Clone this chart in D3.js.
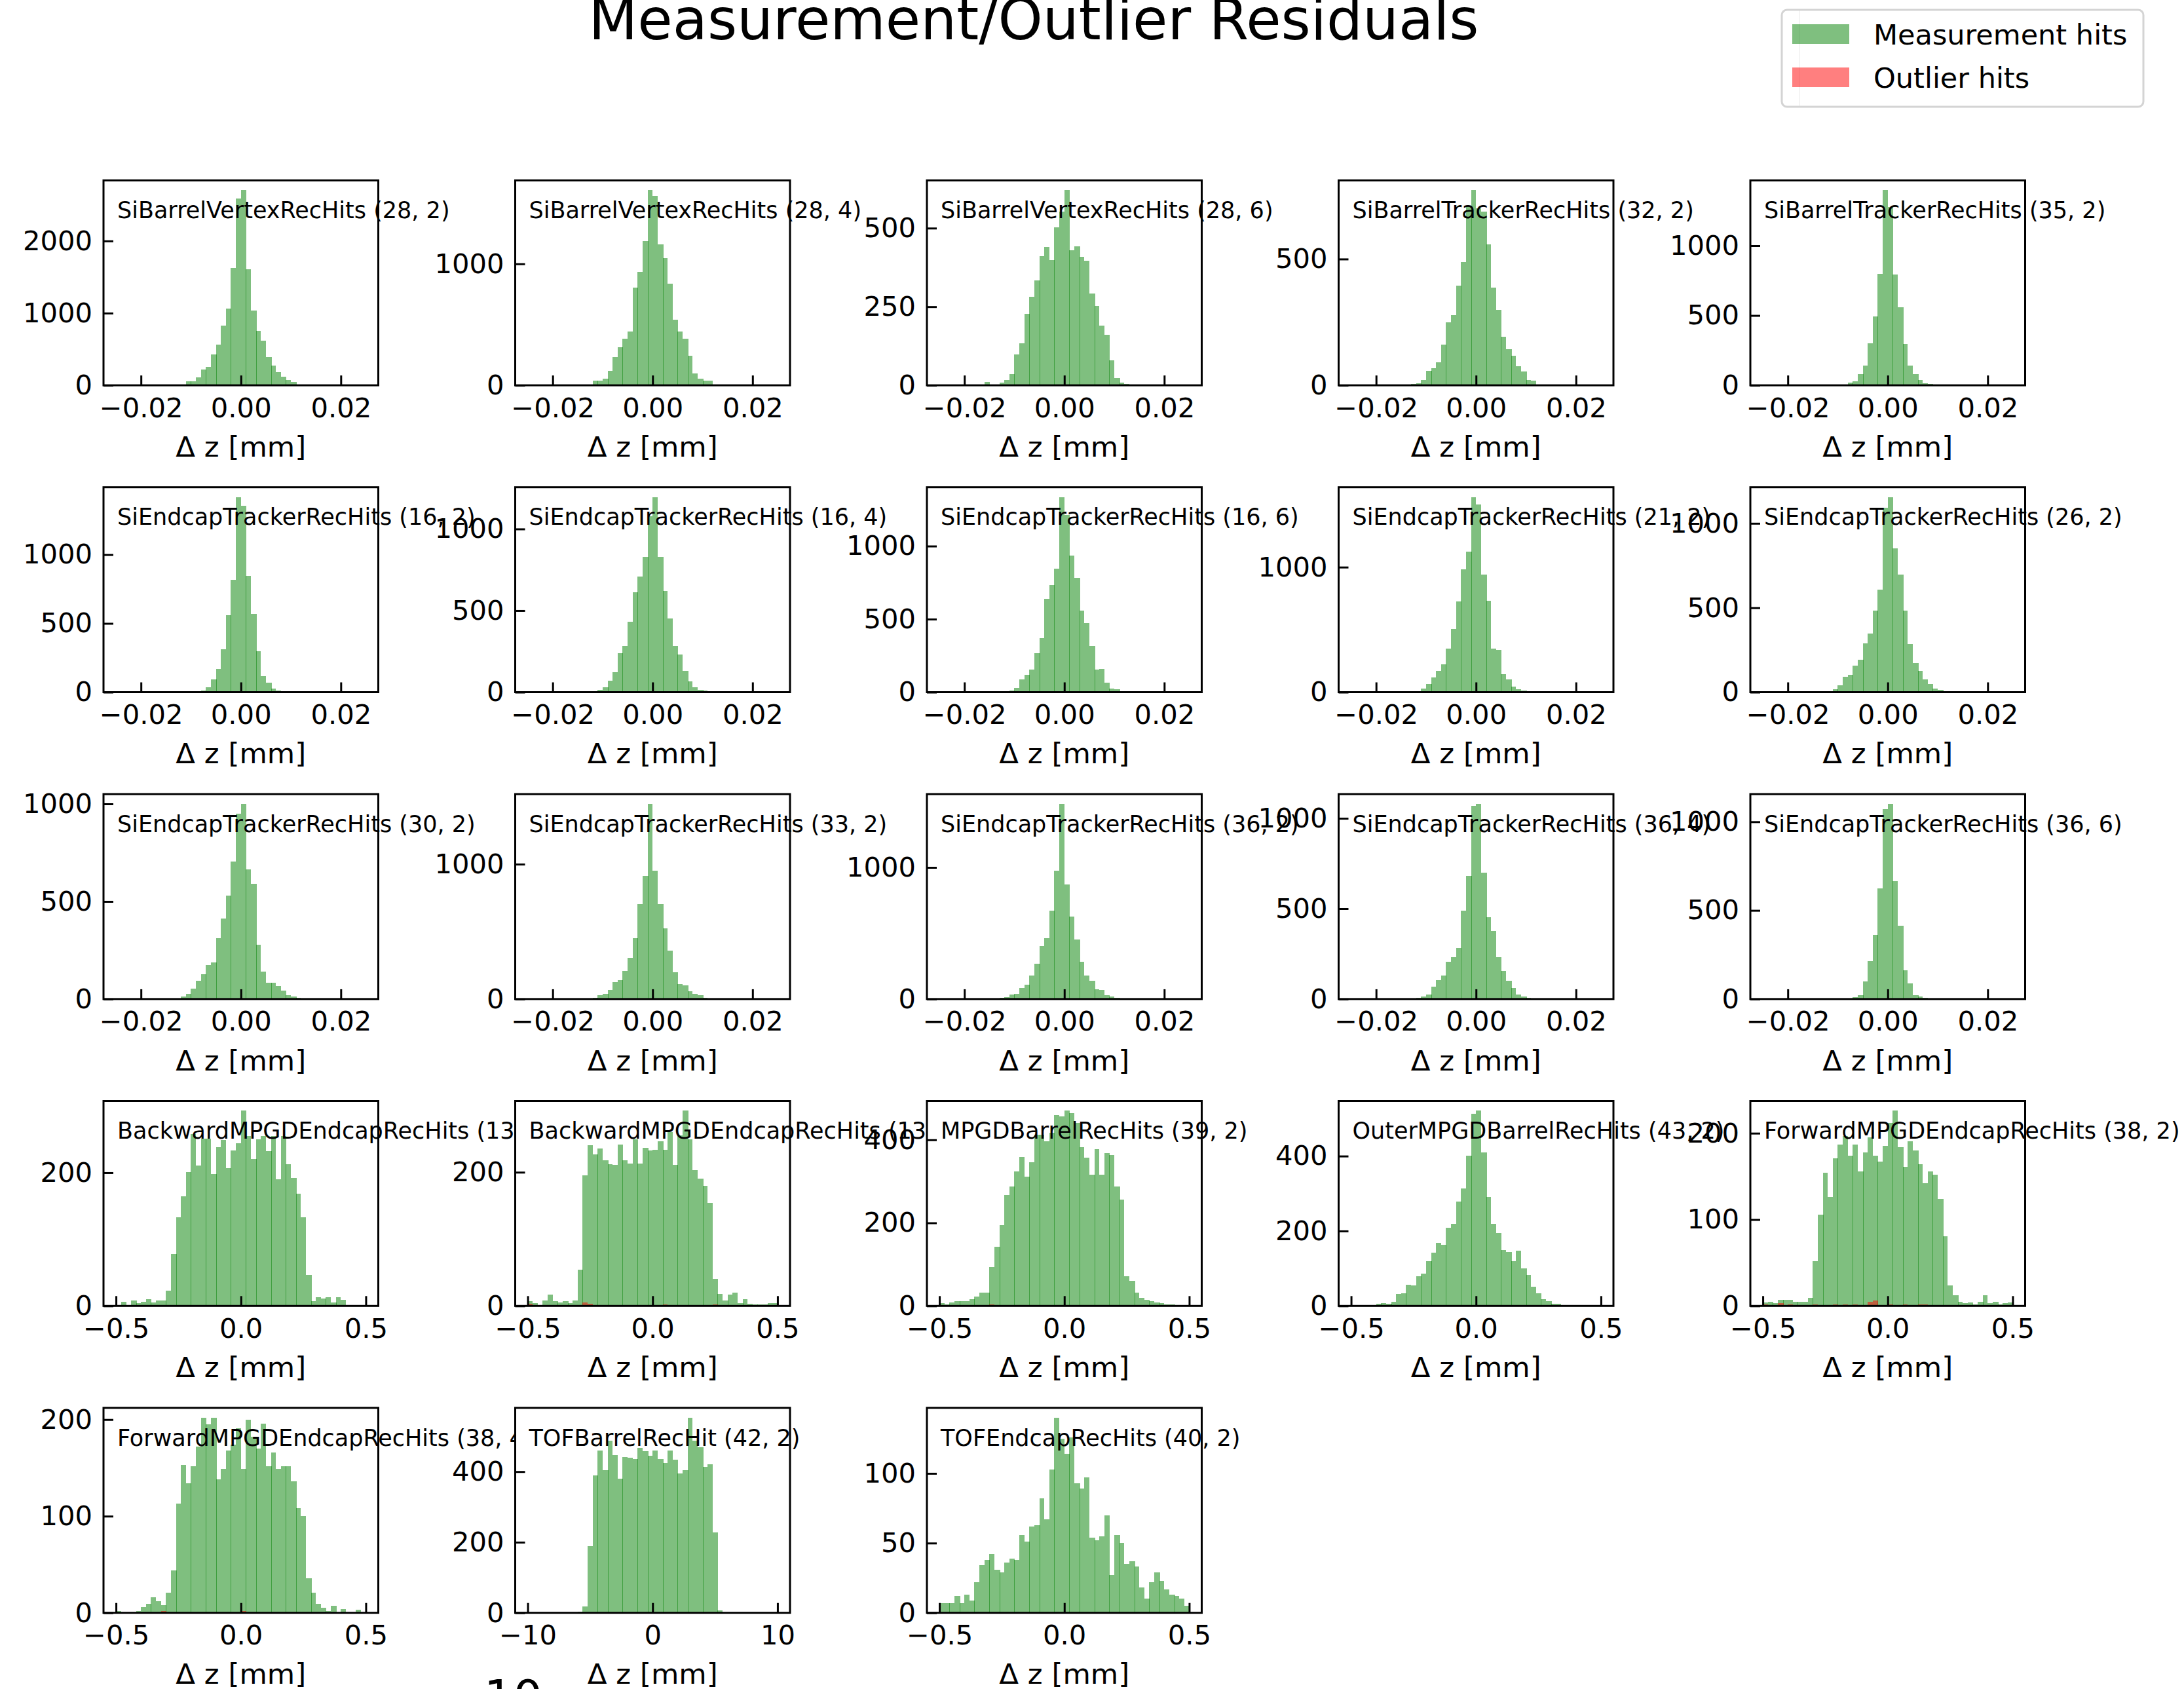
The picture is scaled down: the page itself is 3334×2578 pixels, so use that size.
<!DOCTYPE html>
<html><head><meta charset="utf-8">
<script src="https://cdn.jsdelivr.net/npm/d3@7"></script>
<style>body{margin:0;background:#fff}svg{display:block}text{font-family:"DejaVu Sans"}</style>
</head><body><svg id="c" width="3334" height="2578"></svg>
<script>
// ---------------- DATA ----------------
const titleText = "Measurement/Outlier Residuals";
const legendLabels = ["Measurement hits", "Outlier hits"];
const xLabelText = "Δ z [mm]";

const panelNames = [
  "SiBarrelVertexRecHits (28, 2)", "SiBarrelVertexRecHits (28, 4)", "SiBarrelVertexRecHits (28, 6)",
  "SiBarrelTrackerRecHits (32, 2)", "SiBarrelTrackerRecHits (35, 2)",
  "SiEndcapTrackerRecHits (16, 2)", "SiEndcapTrackerRecHits (16, 4)", "SiEndcapTrackerRecHits (16, 6)",
  "SiEndcapTrackerRecHits (21, 2)", "SiEndcapTrackerRecHits (26, 2)",
  "SiEndcapTrackerRecHits (30, 2)", "SiEndcapTrackerRecHits (33, 2)", "SiEndcapTrackerRecHits (36, 2)",
  "SiEndcapTrackerRecHits (36, 4)", "SiEndcapTrackerRecHits (36, 6)",
  "BackwardMPGDEndcapRecHits (13, 2)", "BackwardMPGDEndcapRecHits (13, 4)", "MPGDBarrelRecHits (39, 2)",
  "OuterMPGDBarrelRecHits (43, 2)", "ForwardMPGDEndcapRecHits (38, 2)",
  "ForwardMPGDEndcapRecHits (38, 4)", "TOFBarrelRecHit (42, 2)", "TOFEndcapRecHits (40, 2)"
];
// histogram range per panel type
const siRange = [-0.025, 0.025];
const mpgdRange = [-0.5, 0.5];
const tofBarrelRange = [-10, 10];
const siXTicks = [-0.02, 0, 0.02];
const siXTickLabels = ["−0.02", "0.00", "0.02"];
const mpgdXTicks = [-0.5, 0, 0.5];
const mpgdXTickLabels = ["−0.5", "0.0", "0.5"];
const tofXTicks = [-10, 0, 10];
const tofXTickLabels = ["−10", "0", "10"];
const yTickValues = [
  [0,1000,2000],[0,1000],[0,250,500],[0,500],[0,500,1000],
  [0,500,1000],[0,500,1000],[0,500,1000],[0,1000],[0,500,1000],
  [0,500,1000],[0,1000],[0,1000],[0,500,1000],[0,500,1000],
  [0,200],[0,200],[0,200,400],[0,200,400],[0,100,200],
  [0,100,200],[0,200,400],[0,50,100]
];

// Measurement-hit counts, 50 bins each
const meas01 = [0,0,0,0,0,0,0,0,0,0, 0,0,4,8,55,55,112,220,257,429, 565,828,1063,1625,2589,2704,1607,1036,755,619, 393,272,181,121,75,45,12,6,3,0, 0,0,0,0,0,0,0,0,0,0];
const meas02 = [0,0,0,0,0,0,0,0,0,0, 0,0,3,39,36,56,120,233,314,382, 443,804,934,1188,1607,1558,1158,1047,838,540, 443,382,242,99,57,39,36,8,3,0, 0,0,0,0,0,0,0,0,0,0];
const meas03 = [0,0,0,0,0,0,0,0,0,10, 0,2,8,17,36,99,134,227,281,333, 411,440,399,503,552,621,430,442,408,396, 292,252,190,161,80,23,8,5,3,3, 2,0,0,0,0,0,0,0,0,0];
const meas04 = [0,0,0,0,0,0,0,0,0,0, 0,3,6,9,22,58,68,91,161,250, 278,395,488,711,773,700,687,557,388,298, 192,143,117,75,56,20,18,4,2,0, 0,0,0,0,0,0,0,0,0,0];
const meas05 = [0,0,0,0,0,0,0,0,0,0, 0,0,0,0,0,0,3,20,27,81, 141,302,492,800,1398,1277,792,559,297,141, 78,39,16,8,3,0,0,0,0,0, 0,0,0,0,0,0,0,0,0,0];
const meas06 = [0,0,0,0,0,0,0,0,0,0, 0,0,0,0,0,0,0,10,35,91, 171,314,558,817,1419,1356,845,569,298,115, 67,27,11,4,0,0,0,0,0,0, 0,0,0,0,0,0,0,0,0,0];
const meas07 = [0,0,0,0,0,0,0,0,0,0, 0,0,0,0,16,30,70,124,238,285, 433,614,708,829,1078,1196,829,621,453,285, 231,130,67,30,16,9,0,0,0,0, 0,0,0,0,0,0,0,0,0,0];
const meas08 = [0,0,0,0,0,0,0,0,0,0, 0,0,0,0,10,29,89,120,153,266, 371,638,731,844,1336,1212,937,784,559,471, 318,153,161,63,26,18,8,0,0,0, 0,0,0,0,0,0,0,0,0,0];
const meas09 = [0,0,0,0,0,0,0,0,0,0, 0,0,0,9,30,65,118,170,223,351, 504,726,982,1123,1561,1500,942,732,346,336, 144,100,47,21,12,5,0,0,0,0, 0,0,0,0,0,0,0,0,0,0];
const meas10 = [0,0,0,0,0,0,0,0,0,0, 0,0,0,6,16,42,91,104,156,191, 288,347,483,607,1094,1156,853,697,483,286, 171,126,74,48,22,13,6,0,0,0, 0,0,0,0,0,0,0,0,0,0];
const meas11 = [0,0,0,0,0,0,0,0,0,0, 0,0,4,13,27,53,92,126,173,188, 311,412,530,704,948,1000,665,589,278,139, 83,85,66,42,19,13,8,0,0,0, 0,0,0,0,0,0,0,0,0,0];
const meas12 = [0,0,0,0,0,0,0,0,0,0, 0,0,0,8,28,36,68,125,141,207, 304,450,706,914,1447,950,706,524,358,198, 109,101,60,36,28,11,0,0,0,0, 0,0,0,0,0,0,0,0,0,0];
const meas13 = [0,0,0,0,0,0,0,0,0,0, 0,0,7,12,33,37,83,107,178,270, 403,462,670,973,1483,870,628,453,283,178, 137,73,70,28,20,8,0,0,0,0, 0,0,0,0,0,0,0,0,0,0];
const meas14 = [0,0,0,0,0,0,0,0,0,0, 0,0,0,6,15,24,69,106,130,206, 233,284,488,682,1068,1080,700,451,376,233, 154,100,61,24,15,6,0,0,0,0, 0,0,0,0,0,0,0,0,0,0];
const meas15 = [0,0,0,0,0,0,0,0,0,0, 0,0,0,0,0,0,0,3,9,21, 101,213,360,625,1073,1101,666,415,163,89, 21,15,6,0,0,0,0,0,0,0, 0,0,0,0,0,0,0,0,0,0];
const meas16 = [0,6,0,8,4,6,10,5,8,8, 23,78,133,165,201,258,211,251,251,198, 238,249,207,233,244,293,255,221,250,255, 232,255,190,255,213,192,168,133,47,7, 13,11,13,5,13,9,0,0,0,0];
const meas17 = [7,4,1,8,17,7,5,7,4,8, 54,195,240,227,236,218,212,211,241,218, 213,249,213,237,233,234,246,234,260,211, 255,292,249,203,190,180,154,40,18,8, 17,20,4,10,3,2,2,2,4,4];
const meas18 = [6,3,8,11,12,11,16,22,32,32, 93,143,194,267,287,324,359,312,346,412, 412,396,417,459,457,470,465,441,383,357, 316,378,316,368,363,288,256,72,61,32, 19,14,11,8,6,4,3,2,0,0];
const meas19 = [0,0,0,0,0,5,8,6,11,32, 34,56,55,80,87,120,143,168,164,208, 220,278,313,401,513,521,410,290,219,195, 150,144,120,147,100,82,51,33,18,12, 6,5,2,0,0,0,0,0,0,0];
const meas20 = [4,5,3,7,7,7,5,5,5,9, 52,106,154,126,171,187,197,174,187,156, 178,195,174,167,185,212,226,184,161,191, 180,164,142,156,152,124,81,24,12,5, 3,4,2,5,12,3,5,2,3,4];
const meas21 = [2,0,0,0,2,6,9,16,12,8, 21,44,113,153,134,152,172,202,195,202, 138,149,168,174,191,149,200,182,170,196, 152,166,149,152,152,136,108,100,36,21, 9,5,2,7,0,4,0,0,3,0];
const meas22 = [0,0,0,0,0,0,0,0,0,0, 4,18,188,389,460,404,487,447,380,441, 440,436,468,458,445,459,436,424,460,433, 394,405,553,488,470,414,421,228,7,2, 2,2,0,2,0,0,0,0,0,0];
const meas23 = [7,7,7,12,7,13,9,22,34,38, 42,31,29,36,39,38,56,51,62,63, 82,67,103,140,125,114,126,93,89,97, 54,52,55,70,27,56,50,35,37,33, 18,10,22,29,23,17,13,12,10,5];

// Outlier-hit counts as [bin, count] pairs (bins not listed are empty)
const outl03 = [[40,2]];
const outl10 = [[43,2]];
const outl17 = [[0,3],[11,5],[12,3],[27,2],[37,2]];
const outl18 = [[10,3]];
const outl20 = [[0,2],[3,3],[5,2],[10,2],[14,2],[16,2],[18,2],[21,5],[22,6],[25,2],[28,2],[31,2],[32,2]];
const outl21 = [[9,2],[25,2]];
const outlNone = [];

// ---------------- BUILD ----------------
const measAll = [meas01,meas02,meas03,meas04,meas05,meas06,meas07,meas08,meas09,meas10,meas11,meas12,
  meas13,meas14,meas15,meas16,meas17,meas18,meas19,meas20,meas21,meas22,meas23];
const outlAll = [outlNone,outlNone,outl03,outlNone,outlNone,outlNone,outlNone,outlNone,outlNone,outl10,
  outlNone,outlNone,outlNone,outlNone,outlNone,outlNone,outl17,outl18,outlNone,outl20,outl21,outlNone,outlNone];

const panels = panelNames.map((name, i) => {
  let range, xt, xtl;
  if (i < 15) { range = siRange; xt = siXTicks; xtl = siXTickLabels; }
  else if (i === 21) { range = tofBarrelRange; xt = tofXTicks; xtl = tofXTickLabels; }
  else { range = mpgdRange; xt = mpgdXTicks; xtl = mpgdXTickLabels; }
  return {name, range, xt, xtl, yt: yTickValues[i], meas: measAll[i], outl: outlAll[i]};
});

const svg = d3.select("#c");
svg.append("rect").attr("width", 3334).attr("height", 2578).attr("fill", "#fff");

const L0 = 158, CS = 628.5, AW = 419.5, T0 = 275.3, RS = 468.4, AH = 312.8;
const FS_TICK = 41.7, FS_XLAB = 43.5, FS_ANN = 35;

function seam(v) { const f = v - Math.floor(v); return f > 0.31 && f < 0.69; }

panels.forEach((p, i) => {
  const r = Math.floor(i / 5), c = i % 5;
  const x0 = L0 + c * CS, y0 = T0 + r * RS;
  const [lo, hi] = p.range, span = hi - lo, nb = p.meas.length, bw = span / nb;
  const x = d3.scaleLinear().domain([lo - 0.05 * span, hi + 0.05 * span]).range([x0, x0 + AW]);
  const red = p.meas.map(() => 0);
  p.outl.forEach(([b, v]) => { red[b] = v; });
  const ymax = d3.max(p.meas.concat(red)) * 1.05;
  const y = d3.scaleLinear().domain([0, ymax]).range([y0 + AH, y0]);

  const g = svg.append("g");
  g.append("rect").attr("x", x0).attr("y", y0).attr("width", AW).attr("height", AH).attr("fill", "#fff");

  const drawBars = (vals, color) => {
    const data = vals.map((v, k) => ({k, v})).filter(d => d.v > 0);
    g.append("g").attr("shape-rendering", "crispEdges").selectAll("rect").data(data).join("rect")
      .attr("x", d => Math.round(x(lo + d.k * bw)))
      .attr("width", d => {
        const a = Math.round(x(lo + d.k * bw)), xb = x(lo + (d.k + 1) * bw);
        return Math.round(xb) + (seam(xb) ? 1 : 0) - a;
      })
      .attr("y", d => Math.round(y(d.v)))
      .attr("height", d => Math.round(y(0)) - Math.round(y(d.v)))
      .attr("fill", color).attr("fill-opacity", 0.5);
  };
  drawBars(p.meas, "#008000");
  drawBars(red, "#ff0000");

  // spines
  g.append("rect").attr("x", x0).attr("y", y0).attr("width", AW).attr("height", AH)
    .attr("fill", "none").attr("stroke", "#000").attr("stroke-width", 3);

  // axes
  const xa = d3.axisBottom(x).tickValues(p.xt).tickFormat((d, j) => p.xtl[j]).tickSizeInner(-15).tickSizeOuter(0).tickPadding(19);
  const gx = g.append("g").attr("transform", `translate(0,${y0 + AH})`).call(xa);
  const ya = d3.axisLeft(y).tickValues(p.yt).tickFormat(d3.format("d")).tickSizeInner(-15).tickSizeOuter(0).tickPadding(17);
  const gy = g.append("g").attr("transform", `translate(${x0},0)`).call(ya);
  [gx, gy].forEach(a => {
    a.select(".domain").remove();
    a.selectAll("line").attr("stroke", "#000").attr("stroke-width", 3);
    a.selectAll("text").attr("font-size", FS_TICK).attr("font-family", "DejaVu Sans").attr("fill", "#000");
  });

  // x label
  g.append("text").attr("x", x0 + AW / 2).attr("y", y0 + AH + 108.7).attr("text-anchor", "middle")
    .attr("font-size", FS_XLAB).text(xLabelText);

  // annotation
  g.append("text").attr("x", x0 + 0.05 * AW).attr("y", y0 + 57.7).attr("font-size", FS_ANN).text(p.name);
});

// title
svg.append("text").attr("x", 1578).attr("y", 60).attr("text-anchor", "middle").attr("font-size", 86.8).text(titleText);

// partial bottom text
svg.append("text").attr("x", 739).attr("y", 2614).attr("font-size", 70).text("10");

// legend
const lg = svg.append("g");
lg.append("line").attr("x1", 2747).attr("x2", 2747).attr("y1", 15).attr("y2", 163).attr("stroke", "#c8c8c8").attr("stroke-width", 2);
lg.append("rect").attr("x", 2720).attr("y", 15).attr("width", 552).attr("height", 148).attr("rx", 8)
  .attr("fill", "#fff").attr("fill-opacity", 0.8).attr("stroke", "#d4d4d4").attr("stroke-width", 3);
const legColors = ["#008000", "#ff0000"];
legendLabels.forEach((t, j) => {
  lg.append("rect").attr("x", 2736).attr("y", 37 + j * 66).attr("width", 87).attr("height", 30)
    .attr("fill", legColors[j]).attr("fill-opacity", 0.5);
  lg.append("text").attr("x", 2860).attr("y", 68 + j * 66).attr("font-size", 43).text(t);
});
</script></body></html>
